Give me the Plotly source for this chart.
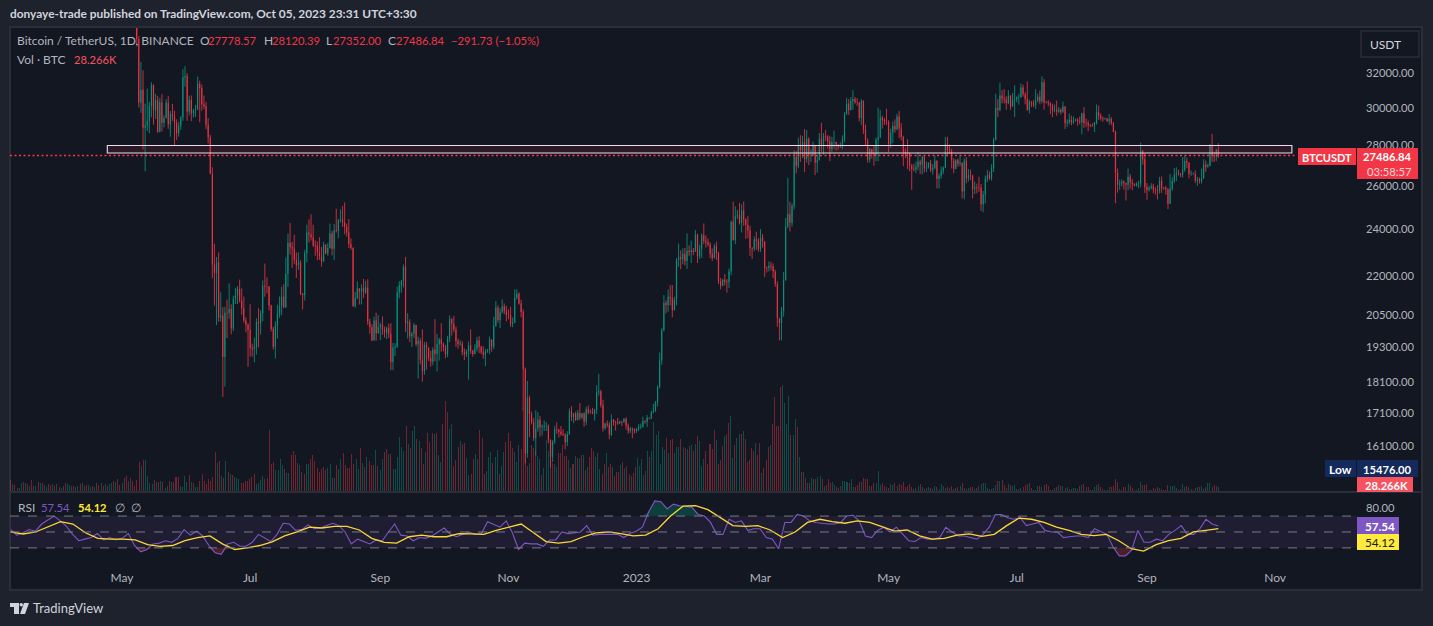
import numpy as np
import pandas as pd
import plotly.graph_objects as go

END_DATE = "2023-10-05"
first_open = 36000
# one row per month: May 2022 (from the 7th) to Oct 2023
closes = [
35470,34059,30296,31022,28936,29047,29283,30101,31305,29862,30425,28716,30314,29201,29445,30293,29109,29655,29542,29201,28629,29031,29468,31734,31801,
29805,30452,29700,29864,29920,31373,31125,30204,30109,29091,28424,26574,22487,22136,22583,20401,20468,18970,20574,20573,20723,19987,21110,21237,21491,21038,20742,20281,20123,19942,
19279,19252,19315,20236,20175,20564,21624,21594,21592,20856,19970,19329,20097,20547,20827,21195,20780,22106,23396,23223,23152,22684,22451,22579,21310,21253,22957,23845,23774,23643,23293,
23269,22988,22818,22622,23312,22954,23175,23810,23149,23954,23934,24403,24441,24305,24094,23854,23342,23191,20834,21140,21515,21399,21529,21368,21560,20241,20037,19555,20285,19811,20050,
20127,19952,19832,20000,19796,18790,19292,19320,21360,21648,21826,22395,20173,20226,19701,19803,20113,19416,19538,18875,18483,19402,19297,18924,18803,19222,19079,19412,19591,19422,
19310,19056,19623,20336,20160,19955,19531,19417,19439,19131,19060,19155,19375,19176,19068,19268,19549,19327,19123,19041,19164,19204,19570,19330,20080,20771,20295,20595,20818,20635,20495,
20485,20159,20209,21148,21300,20926,20602,18541,15880,17601,17070,16812,16330,16619,16900,16662,16692,16700,16700,16280,15781,16226,16603,16598,16522,16458,16428,16212,16442,17164,
16977,17092,16885,17105,16966,17089,16836,17224,17128,17127,17085,17208,17774,17803,17356,16632,16776,16738,16438,16895,16824,16821,16778,16837,16830,16918,16706,16547,16633,16607,16542,
16616,16672,16674,16850,16831,16950,16943,17127,17178,17440,17944,18846,19930,20955,20871,21186,21133,20677,21071,22667,22784,22707,22917,22632,23060,23009,23074,23022,23743,22826,23125,
23732,23488,23431,23326,22933,22762,23250,22963,21796,21625,21863,21783,21773,22201,24325,23517,24570,24631,24272,24838,24440,24182,23940,23186,23157,23554,23492,23141,
23629,23465,22354,22346,22430,22409,22198,21705,20363,20187,20632,21850,24114,24670,24285,25049,27423,26966,28039,27767,28175,27308,28333,27476,27480,28000,27135,27250,28350,28035,28480,
28450,28200,27800,28170,28180,28040,27920,27950,28340,29650,30235,29880,30390,30485,30320,30315,29445,30395,28820,28245,27265,27815,27590,27510,28300,28420,29475,29340,29250,29230,
28070,28670,29025,28840,29535,28900,28430,27665,27630,27600,26970,26805,26780,26920,27170,27030,27400,26830,26890,27100,26750,26850,27225,26330,26475,26720,26870,28085,27745,27700,27220,
26820,27250,27070,27120,25730,27235,26345,26500,26480,25840,25920,25900,25900,25125,25575,26335,26510,26340,26845,28300,29995,29890,30690,30530,30470,30270,30690,30080,30445,30470,
30590,30620,31155,30770,30500,29895,30350,30290,30170,30410,30620,30380,31450,30315,30295,30250,30140,29860,29910,29800,29905,29790,30085,29175,29225,29350,29210,29320,29355,29275,29230,
29705,29185,29180,29075,29040,29040,29180,29770,29560,29430,29400,29420,29280,29400,29170,28700,26620,26050,26100,26190,26125,26050,26430,26160,26060,26000,26090,26100,27725,27300,25940,
25800,25870,25970,25815,25780,25750,26240,25900,25895,25830,25160,25840,26220,26530,26600,26570,26530,26760,27210,27130,26570,26580,26580,26250,26300,26210,26350,27030,26910,26960,
27990,27500,27430,27790,27487]
highs = [
36150,34300,34250,32658,32162,30243,31083,30343,31460,31305,30788,30672,30545,30777,29600,30487,30670,29830,30225,29850,29380,29250,29550,32222,32399,
31982,30689,30700,29950,30170,31778,31548,31329,30705,30330,29440,28550,26898,23362,22800,22995,21365,20792,20800,21080,21723,20900,21233,21542,21614,21868,21520,21200,20400,20179,
20900,19435,19650,20365,20750,20675,21838,22527,21954,21600,20880,20046,20250,20880,21200,21588,21689,22777,23800,24276,23442,23756,22990,23000,22668,21347,23100,24199,24442,24668,24194,
23509,23459,23647,23223,23450,23354,23400,24245,23933,24226,24918,24456,24888,25047,25211,24247,24446,23600,23200,21382,21800,21515,21680,21900,21819,21886,20352,20150,20432,20577,20490,
20199,20444,20057,20055,20165,20179,19463,19450,21597,21810,21860,22488,22799,20560,20330,19860,20192,20100,19689,19634,19956,19500,19500,19310,19180,19310,20340,19790,19645,20185,
19484,19395,19719,20475,20365,20456,20055,19620,19557,19525,19267,19225,19513,19951,19213,19425,19676,19707,19360,19346,19250,19250,19695,19600,20420,21020,20853,20750,21085,20930,20840,
20700,20800,20393,21480,21480,21365,21070,20700,18600,18150,17660,17150,16950,17190,17133,17015,16750,16870,16820,16750,16300,16270,16706,16812,16600,16700,16600,16484,16540,17250,
17320,17100,17150,17200,17425,17107,17135,17300,17350,17220,17270,17240,18000,18387,17846,17530,16800,16875,16820,17061,16920,16866,16950,16870,16860,16950,16970,16780,16664,16650,16628,
16630,16760,16780,16990,16880,17042,16970,17176,17400,17490,18000,19117,20000,21258,21050,21474,21650,21650,21188,22755,23371,23080,23170,23180,23816,23290,23500,23180,23960,23800,23320,
23812,24255,23720,23590,23430,23160,23350,23450,23020,21940,21900,22090,21890,22320,24380,25250,25021,24870,25190,25120,25250,24480,24590,24150,23210,23680,23890,23600,
24000,23780,23480,22400,22610,22600,22530,22270,21800,20370,20790,22180,24500,26386,25250,25170,27750,27725,28400,28530,28500,28860,28800,28430,27800,28195,28030,27520,28650,29190,28650,
28800,28530,28500,28440,28780,28185,28050,28170,28530,29770,30550,30490,30610,31000,30610,30550,30320,30490,30410,29100,28370,27880,27820,28000,28400,30020,29890,29570,29460,29960,
29330,28880,29260,29380,29680,29840,29180,28500,27840,28320,27630,27060,27060,27180,27660,27280,27480,27480,27180,27150,27260,27060,27490,27210,26590,26930,26950,28450,28450,28040,27830,
27350,27300,27330,27460,27130,27350,27400,26810,26780,26530,26200,26100,26430,26080,25750,26490,26770,26690,27050,28400,30800,30500,31430,31000,31050,30650,31000,30700,30830,31280,
30650,30790,31380,31320,30880,31500,30450,30380,30450,31050,30800,30980,31800,31630,30390,30440,30340,30240,30190,30410,30050,29990,30350,30100,29380,29690,29580,29530,29415,29450,29530,
29740,30050,29430,29310,29110,29170,29240,30200,30130,29700,29540,29470,29460,29660,29500,29230,28780,26830,26290,26300,26260,26140,26830,26570,26315,26120,26170,26240,28140,27760,27580,
26130,25990,26120,26090,25920,26030,26430,26440,25940,25980,25880,26560,26400,26860,26890,26770,26620,27410,27490,27380,27160,26740,26640,26740,26430,26390,26830,27300,27230,27090,
28070,28600,27680,27820,28120]
lows = [
34800,33713,30033,29730,27785,26700,28751,28630,29480,29087,29400,28654,28691,28730,28947,29450,28866,28450,29294,28019,28282,28450,28812,29300,31200,
29300,29594,29282,29485,29510,29880,29218,29844,29944,28850,28100,26560,21925,20846,20111,20232,20246,17622,17960,19637,20348,19770,19890,20906,20906,20960,20500,20200,19846,18626,
18975,18978,18781,19050,19305,19762,20250,21189,21320,20655,19875,19230,18910,19616,20383,20478,20750,20762,21579,22906,22341,22500,21934,22265,21250,20706,21043,22580,23414,23500,23227,
22850,22664,22681,22400,22586,22909,22847,23154,22865,22664,23852,23600,24292,24100,23773,23671,23180,23100,20800,20761,21100,20890,20890,21145,21300,20112,19800,19520,19550,19540,19800,
19565,19754,19653,19600,19635,18510,18510,19000,19291,21127,21350,21557,19860,19620,19497,19320,19637,19340,18232,18711,18125,18355,18530,18817,18630,18680,18816,18471,18843,19155,
19159,18920,18959,19490,19730,19854,19320,19255,19360,19020,18860,18965,18190,19070,18975,19063,19160,19100,19065,18900,18650,19110,19070,19156,19240,20050,20200,20000,20552,20515,20250,
20330,20048,20032,20178,21080,20886,20400,17166,15588,15754,16361,16750,16250,15815,16525,16377,16410,16550,16551,16180,15476,15630,16166,16460,16350,16400,16400,16001,16100,16430,
16860,16790,16860,16880,16880,16910,16680,16730,17070,17090,17070,16870,17072,17660,17275,16527,16584,16660,16300,16398,16710,16560,16740,16780,16700,16790,16590,16470,16488,16333,16470,
16490,16545,16605,16650,16770,16678,16908,16908,17100,17143,17315,17900,18700,19880,20550,20610,20851,20400,20660,20860,22400,22290,22500,22450,22300,22850,22550,22880,23010,22550,22720,
22760,23350,23200,23250,22750,22630,22745,22670,21690,21480,21610,21630,21350,21530,22050,23500,23340,24450,24210,23850,24150,23570,23600,22840,22720,23050,23100,23020,
23020,23190,21970,22160,22200,22250,21930,21580,20050,19550,19550,20430,21820,24050,23900,24120,24880,26600,26850,27170,27360,26650,27120,27000,27160,27470,26510,26630,27240,27680,27530,
28230,27860,27200,27670,27820,27730,27790,27880,27800,28170,29630,29620,29870,29900,30230,30120,29260,29090,28600,28010,27125,27130,27330,26970,27200,27200,28380,28880,29080,29090,
27660,27870,28130,28670,28800,28380,28260,26950,27350,26800,26700,25800,26690,26600,26740,26560,26550,26640,26650,26830,26660,26530,26810,25870,25860,26340,26550,26860,27530,27560,26840,
26600,26800,26920,26950,25400,25350,26120,26200,26270,25400,25600,25640,25710,24820,24760,25160,26180,26280,26250,26660,28260,29500,29810,30250,30250,29900,30220,29900,30050,29500,
30320,30180,30560,30630,30200,29850,29700,30050,30050,29950,30300,30200,30250,29900,30250,30090,29660,29500,29760,29570,29720,29640,29730,28860,28960,29100,29060,29130,29260,29030,29110,
28585,28920,28960,28750,28960,28980,28700,29100,29350,29310,29250,29360,29250,29100,29060,28700,25170,25670,25800,25960,25810,25300,25790,25860,25780,25970,25960,25880,25920,27030,25650,
25330,25720,25820,25640,25570,25350,25620,25650,25800,25570,24900,25130,25760,26130,26220,26480,26410,26390,26670,26850,26350,26480,26530,26130,25990,26100,26100,26340,26660,26880,
26950,27150,27160,27200,27352]

# volume bars, one unit is about 5.6K BTC
vol_pre = [12,8,7,4,4,9,10,9,8,6,12,6,6,10,9,9,7,5,8,7,8,6,8,5,4,6,9,8,7,6,6,5,6,8,9,6,7,7,5,6,5,9,7,9,6,8,6,8,9,11,10,13,7,9,14,16,11]
vol_pre_dir = "rgrrggrgrgrrgrgrggrrgrgrrgrgggrrgrgrrggrgrrgrgrggrgrrgr"
vol_a = [14,11,6,12,30,26,32,32,16,9,8,12,10,10,11,10,4,6,11,10,10,15,15,6,5,16,10,17,10,9,5,5,11,18,11,8,13,11,15,40,29,31,16,14,31,20,18,17,15,14,13,9,9,11,11,13,15,18,8,9,12,16,13,14,62,28,30,22,22,33,27,23,19,19,37,41,37,29,27,20,18,28,28,33,37,31,24,20,23,25,22,24,28,14,14,27,23,33,39,27,24,24,38,28,33,23,44,29,25,35,31,27,27,42,26,22,33,40,43,38,38,23,23,35,55,45,41,66,48,44,61,66,53,51,44,28,40,59,50,59,58,59,37,30,68,91,80,63,68,26,32,45,51,48,49,34,17,18,33,38,33,62,54,18,21,35,40,29,35,42,18,26,40,50,59,51,44,40,30,47,43]
vol_b = [81,60,26,29,47,44,41,36,33,17,24,52,41,32,29,28,25,39,39,47,36,36,32,24,28,36,34,34,37,37,22,25,35,44,41,35,39,23,18,28,39,25,28,25,16,20,20,27,30,24,26,18,16,19,25,34,26,33,17,21,41,35,41,70,57,61,28,45,42,54,39,52,53,39,45,45,53,45,44,43,46,47,41,48,56,51,26,33,41,28,48,43,62,52,28,32,46,56,58,69,76,34,47,54,58,58,61,53,30,32,44,41,49,37,49,19,24,32,45,47,68,95,66,66,105,107,89,68,96,57,57,73,65,35,20,20,14,9,9,14,13,13,15,16,13,6,7,13,9,10,7,5,4,6,11,11,10,9,13,5,5,7,10,10,14,13,13,6,6,9,9,21]
vol_c = [7,9,6,5,4,8,7,9,6,8,7,10,5,6,8,5,3,4,6,8,5,3,4,5,4,3,6,5,3,8,6,4,5,4,6,3,4,5,6,9,4,3,4,5,5,3,4,6,8,
9,9,4,3,3,4,7,11,11,12,7,4,8,7,6,7,3,3,4,5,7,8,9,4,2,2,6,6,5,7,8,6,2,2,4,5,7,6,6,4,5,3,3,4,4,3,6,
7,8,5,5,2,2,5,7,8,5,3,2,2,5,5,6,13,10,3,2,5,5,8,6,4,2,2,4,10,7,7,8,2,2,4,3,5,4,3,2,2,7,6,6,6,4,2,3,8,5,6,5,3,2,4,5,5,6,3,5,9,9,5,7,6,5]

rsi_values = [53,46,49,53,51,60,65,70,64,57,47,39,41,43,48,40,43,40,42,48,33,25,28,35,36,39,37,42,53,46,51,45,33,24,22,35,37,32,32,37,47,42,38,47,61,60,52,53,59,54,55,58,61,58,50,35,41,38,35,40,39,50,60,46,45,39,43,42,45,50,55,47,44,47,50,47,48,63,59,56,64,49,28,36,35,35,32,40,40,50,48,49,50,58,46,47,47,47,47,43,48,51,
56,75,89,88,79,85,83,82,81,72,70,62,47,47,66,62,64,52,54,54,43,41,29,62,62,72,70,64,62,61,60,60,62,70,71,64,45,43,52,56,50,56,47,39,38,43,41,41,43,56,50,45,45,43,41,47,56,72,72,68,66,68,58,60,62,52,50,50,43,44,45,45,43,54,50,47,31,20,20,27,52,37,37,41,39,47,52,58,47,47,54,66,60,57.54]
rsi_ma_values = [50,47.5,50,57,63,60,49,42,41,41,40,34,32,33,39,43,45,35,28,30,33,37.5,45,50,56,55,57,57,52.5,42,37,36,44,46,44,44,48,47.5,47,52,56,60,49,38,36,38,44,49,50,48,45,46,
54,70,82.5,83,78,67.5,58,57,58,52.5,43,50,62,66,63,61,64,62,56,51,52.5,45,41,42,46,47.5,44.5,47,58,67.5,66,62,56,52,47,45.5,47,39,29,26,34,39,42,50,52,54.12]

price_ticks = [16100,17100,18100,19300,20500,22000,24000,26000,28000,30000,32000]
time_ticks = ["2022-05-01","2022-07-01","2022-09-01","2022-11-01","2023-01-01","2023-03-01","2023-05-01","2023-07-01","2023-09-01","2023-11-01"]
time_labels = ["May","Jul","Sep","Nov","2023","Mar","May","Jul","Sep","Nov"]
zone_top, zone_bottom = 28000, 27610
last_price = 27486.84

RED, GREEN = "#f23645", "#089981"
RED_V, GREEN_V = "rgba(242,54,69,0.42)", "rgba(8,153,129,0.42)"
FONT = "Lato"
TXT = "#b2b5be"

opens = [first_open] + closes[:-1]
dates = pd.date_range(end=END_DATE, periods=len(closes), freq="D")
up = pd.Series(np.array(closes) >= np.array(opens), index=dates)


def span(a, b, vals):
    return pd.date_range(a, b, periods=len(vals))


vol_x = list(span("2022-03-09", "2022-05-04", vol_pre)) + list(span("2022-05-05", "2022-11-07", vol_a)) \
    + list(span("2022-11-08", "2023-04-26", vol_b)) + list(span("2023-04-27", END_DATE, vol_c))
vol_y = vol_pre + vol_a + vol_b + vol_c
vol_col = []
for i, d in enumerate(vol_x):
    if i < len(vol_pre):
        vol_col.append(GREEN_V if vol_pre_dir[i % len(vol_pre_dir)] == "g" else RED_V)
    else:
        k = min(max(up.index.searchsorted(d.normalize()), 0), len(up) - 1)
        vol_col.append(GREEN_V if up.iloc[k] else RED_V)

rsi_x = pd.date_range("2022-03-09", END_DATE, periods=len(rsi_values))
ma_x = pd.date_range("2022-03-09", END_DATE, periods=len(rsi_ma_values))
rsi_arr = np.array(rsi_values, dtype=float)

# pixel helpers for frame furniture only
L, R, T, B = 10, 1357, 28, 563
W, H = 1433, 626
def px(x): return (x - L) / (R - L)
def py(y): return (B - y) / (B - T)

fig = go.Figure()
fig.add_trace(go.Bar(x=vol_x, y=vol_y, marker=dict(color=vol_col, line_width=0), width=86400000 * 0.48,
                     xaxis="x", yaxis="y", hoverinfo="skip", showlegend=False))
fig.add_trace(go.Candlestick(x=dates, open=opens, high=highs, low=lows, close=closes, whiskerwidth=0,
                             increasing=dict(line=dict(color=GREEN, width=0.8), fillcolor=GREEN),
                             decreasing=dict(line=dict(color=RED, width=0.8), fillcolor=RED),
                             xaxis="x", yaxis="y2", showlegend=False))
# RSI pane
fig.add_trace(go.Scatter(x=rsi_x, y=[70] * len(rsi_x), mode="lines", line=dict(width=0), xaxis="x", yaxis="y3", hoverinfo="skip", showlegend=False))
fig.add_trace(go.Scatter(x=rsi_x, y=np.maximum(rsi_arr, 70), mode="lines", line=dict(width=0), fill="tonexty",
                         fillcolor="rgba(8,153,129,0.3)", xaxis="x", yaxis="y3", hoverinfo="skip", showlegend=False))
fig.add_trace(go.Scatter(x=rsi_x, y=[30] * len(rsi_x), mode="lines", line=dict(width=0), xaxis="x", yaxis="y3", hoverinfo="skip", showlegend=False))
fig.add_trace(go.Scatter(x=rsi_x, y=np.minimum(rsi_arr, 30), mode="lines", line=dict(width=0), fill="tonexty",
                         fillcolor="rgba(242,54,69,0.25)", xaxis="x", yaxis="y3", hoverinfo="skip", showlegend=False))
fig.add_trace(go.Scatter(x=rsi_x, y=rsi_values, mode="lines", line=dict(color="#7e57c2", width=1.1), xaxis="x", yaxis="y3", showlegend=False))
fig.add_trace(go.Scatter(x=ma_x, y=rsi_ma_values, mode="lines", line=dict(color="#fdd835", width=1.3), xaxis="x", yaxis="y3", showlegend=False))

shapes = [
    dict(type="rect", xref="paper", yref="paper", x0=px(10), x1=px(1422), y0=py(27), y1=py(590), layer="below",
         fillcolor="#131722", line=dict(color="#2a2e39", width=2)),
    dict(type="line", xref="paper", yref="paper", x0=px(10), x1=px(1422), y0=py(492), y1=py(492), line=dict(color="#2a2e39", width=2)),
    dict(type="line", xref="paper", yref="y2", x0=px(10), x1=px(1297), y0=last_price, y1=last_price, line=dict(color="#ff3347", width=1.5, dash="2px,2.5px")),
    dict(type="rect", xref="x", yref="y2", x0="2022-04-24", x1="2023-11-09", y0=zone_bottom, y1=zone_top,
         fillcolor="rgba(242,54,69,0.1)", line=dict(color="#eddcf0", width=1.1)),
    dict(type="rect", xref="paper", yref="y3", x0=0, x1=1, y0=30, y1=70, layer="below", fillcolor="rgba(126,87,194,0.1)", line_width=0),
]
for lv in (70, 50, 30):
    shapes.append(dict(type="line", xref="paper", yref="y3", x0=0, x1=1, y0=lv, y1=lv, line=dict(color="#787b86", width=1, dash="dash")))


def box(x0, y0, x1, y1, color):
    shapes.append(dict(type="rect", xref="paper", yref="paper", x0=px(x0), x1=px(x1), y0=py(y0), y1=py(y1), fillcolor=color, line_width=0))


box(1298, 148, 1356, 165, "#f23645")
box(1357, 148, 1418, 179, "#f23645")
box(1325, 460, 1356, 477, "#14295c")
box(1357, 460, 1418, 477, "#14295c")
box(1357, 477, 1413, 492, "#f7525f")
box(1357, 517, 1399, 534, "#7e57c2")
box(1357, 534, 1399, 550, "#ffeb3b")
# USDT button
shapes.append(dict(type="rect", xref="paper", yref="paper", x0=px(1361), x1=px(1419), y0=py(31), y1=py(57), line=dict(color="#2a2e39", width=1.5)))
# TradingView logo
def poly(points):
    d = "M" + " L".join(f"{px(a):.5f},{py(b):.5f}" for a, b in points) + " Z"
    shapes.append(dict(type="path", xref="paper", yref="paper", path=d, fillcolor="#d1d4dc", line_width=0))
poly([(10, 603), (19, 603), (19, 614), (14, 614), (14, 607), (10, 607)])
poly([(24, 603), (29, 603), (25, 614), (20, 614)])
shapes.append(dict(type="circle", xref="paper", yref="paper", x0=px(19.5), x1=px(23), y0=py(603), y1=py(606.5), fillcolor="#d1d4dc", line_width=0))

anns = []
def txt(x, y, s, color=TXT, size=12, anchor="left"):
    anns.append(dict(xref="paper", yref="paper", x=px(x - 2 if anchor == "left" else x + 1), y=py(y), text=s, showarrow=False, xanchor=anchor, yanchor="middle",
                     font=dict(family=FONT, size=size, color=color), align=anchor))


NUM = 11.2
txt(10, 14, "<b>donyaye-trade published on TradingView.com, Oct 05, 2023 23:31 UTC+3:30</b>", "#d1d4dc", 11.9)
txt(17, 41, "Bitcoin / TetherUS, 1D, BINANCE", TXT, 12)
for x, a, b in [(200, "O", "27778.57"), (264, "H", "28120.39"), (326, "L", "27352.00"), (388, "C", "27486.84")]:
    txt(x, 41, a, TXT, 12)
    txt(x + 8 if a != "L" else x + 7, 41, b, RED, NUM)
txt(451, 41, "−291.73 (−1.05%)", RED, NUM)
txt(17, 59, "Vol · BTC", TXT, 12)
txt(74, 59, "28.266K", "#f7525f", NUM)
txt(1370, 44, "USDT", "#d1d4dc", 12)
txt(1302, 157, "<b>BTCUSDT</b>", "#ffffff", 11)
txt(1413, 156, "<b>27486.84</b>", "#ffffff", NUM, "right")
txt(1413, 171, "03:58:57", "#fbd5d8", NUM, "right")
txt(1329, 469, "<b>Low</b>", "#ffffff", 12)
txt(1413, 469, "<b>15476.00</b>", "#ffffff", NUM, "right")
txt(1365, 485, "<b>28.266K</b>", "#ffffff", NUM)
txt(1365, 526, "<b>57.54</b>", "#ffffff", NUM + 0.5)
txt(1365, 542, "54.12", "#131722", NUM + 0.5)
txt(18, 507, "RSI", TXT, 12)
txt(41, 507, "57.54", "#7e57c2", NUM)
txt(78, 507, "<b>54.12</b>", "#ffeb3b", NUM)
txt(115, 507, "∅", TXT, 12)
txt(131, 507, "∅", TXT, 12)
txt(33, 608, "TradingView", "#d1d4dc", 13)

tickfont = dict(family=FONT, size=NUM, color=TXT)
timefont = dict(family=FONT, size=12, color=TXT)
fig.update_layout(
    width=W, height=H, margin=dict(l=L, r=W - R, t=T, b=H - B, autoexpand=False),
    paper_bgcolor="#1e222d", plot_bgcolor="rgba(0,0,0,0)", showlegend=False, bargap=0, boxgap=0.8, hovermode=False,
    xaxis=dict(domain=[0, 1], anchor="y3", type="date", range=["2022-03-08 16:00", "2023-12-10 00:00"],
               tickmode="array", tickvals=time_ticks, ticktext=time_labels, tickfont=timefont, ticklabelstandoff=6,
               showgrid=False, zeroline=False, showline=False, ticks="", rangeslider=dict(visible=False)),
    yaxis=dict(domain=[py(492), 1], range=[0, 464], showticklabels=False, showgrid=False, zeroline=False, anchor="x", fixedrange=True),
    yaxis2=dict(domain=[py(492), 1], overlaying="y", side="right", type="log", anchor="x",
                range=[np.log10(14790), np.log10(34760)], tickmode="array", tickvals=price_ticks,
                ticktext=[f"{v}.00" for v in price_ticks], tickfont=tickfont, ticklabelstandoff=8,
                showgrid=False, zeroline=False, showline=False, ticks=""),
    yaxis3=dict(domain=[0, py(493)], side="right", range=[11, 99], anchor="x", tickmode="array", tickvals=[80],
                ticktext=["80.00"], tickfont=tickfont, ticklabelstandoff=8, showgrid=False, zeroline=False, showline=False, ticks=""),
    shapes=shapes, annotations=anns,
)

fig.write_html("out.html", config=dict(displayModeBar=False),
               post_script="document.body.style.margin='0';document.body.style.overflow='hidden';document.body.style.background='#1e222d';")
